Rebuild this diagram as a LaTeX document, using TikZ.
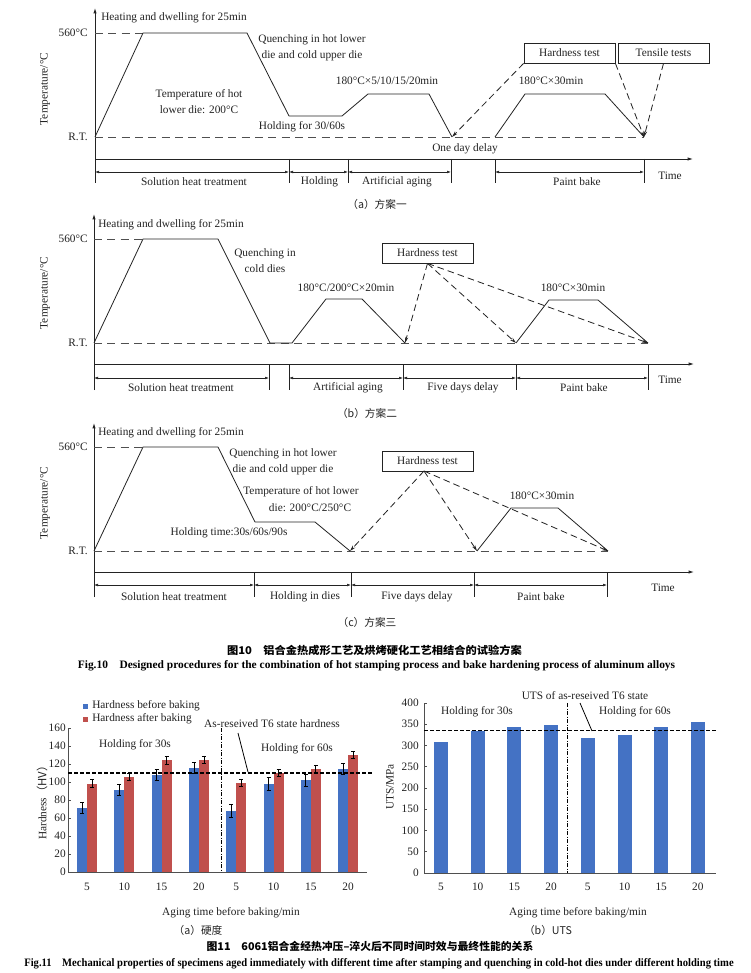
\documentclass[tikz,border=0pt]{standalone}
\usepackage{fontspec}
\usepackage{graphicx}
\setmainfont{Liberation Serif}
\newfontfamily\cjk{Noto Sans CJK SC}
\usetikzlibrary{arrows.meta,calc}
\definecolor{ink}{RGB}{35,35,35}
\definecolor{barblue}{RGB}{68,114,196}
\definecolor{barred}{RGB}{192,80,77}
\tikzset{
  lbl/.style={font=\fontsize{8.5}{12}\selectfont, inner sep=0pt, text=ink},
  mlbl/.style={lbl, align=center},
  curve/.style={draw=ink, line width=0.6pt, line join=round},
  rtdash/.style={draw=ink!80, line width=0.6pt, dash pattern=on 6pt off 4pt},
  axis/.style={draw=ink, line width=0.6pt},
  axarrow/.style={axis, -{Latex[length=4pt,width=2.5pt]}},
  dimline/.style={draw=ink, line width=0.45pt, {Latex[length=3pt,width=2pt]}-{Latex[length=3pt,width=2pt]}},
  tickline/.style={draw=ink, line width=0.6pt},
  testbox/.style={draw=ink, line width=0.6pt, minimum width=68.25pt, minimum height=15pt, inner sep=0pt, font=\fontsize{8.5}{10}\selectfont, text=ink},
  testarrow/.style={draw=ink, line width=0.6pt, dash pattern=on 5pt off 3pt, -{Stealth[length=4.5pt,width=2.5pt]}},
  capcn/.style={font=\cjk\fontsize{8}{10}\selectfont, inner sep=0pt, text=ink},
  capbold/.style={font=\bfseries\fontsize{8.5}{10}\selectfont, inner sep=0pt, text=black},
  capcnbold/.style={font=\cjk\bfseries\fontsize{8}{10}\selectfont, inner sep=0pt, text=black},
  chartaxis/.style={draw=ink!80, line width=0.6pt},
  refline/.style={draw=black, line width=0.9pt, dash pattern=on 3pt off 1.5pt},
  splitline/.style={draw=black, line width=0.6pt, dash pattern=on 3pt off 1.2pt on 0.6pt off 1.2pt},
  errbar/.style={draw=black, line width=0.6pt},
  leader/.style={draw=black, line width=0.6pt},
}
\begin{document}
\begin{tikzpicture}[x=0.75pt,y=-0.75pt]
\useasboundingbox (0,0) rectangle (750,973);
\fill[white] (0,0) rectangle (750,973);

%%%%%%%%%%%%%%%%%%%% Panel (a)
\coordinate (ayb) at (95,183); \coordinate (ayt) at (95,8);
\coordinate (atl) at (95,159); \coordinate (atr) at (693,159);
\draw[axarrow] (ayb) -- (ayt);
\draw[axarrow] (atl) -- (atr);
\node[lbl,anchor=east] (a560) at (88,33) {560°C};
\node[lbl,anchor=east] (aRT) at (88,137) {R.T.};
\node[lbl,rotate=90] (aylab) at (45,89) {Temperature/°C};
\foreach \x in {289,348,451,495,644} \draw[tickline] (\x,159) -- (\x,183);
\draw[dimline] (95,172) -- (289,172);
\draw[dimline] (289,172) -- (348,172);
\draw[dimline] (348,172) -- (451,172);
\draw[dimline] (495,172) -- (644,172);
\node[lbl] (aL1) at (194,182) {Solution heat treatment};
\node[lbl] (aL2) at (319.5,182) {Holding};
\node[lbl] (aL3) at (397,182) {Artificial aging};
\node[lbl] (aL4) at (577,182) {Paint bake};
\node[lbl] (aTime) at (670,176) {Time};
\coordinate (a0) at (95,137); \coordinate (a1) at (143,33); \coordinate (a2) at (247,33);
\coordinate (a3) at (289,116); \coordinate (a4) at (342,116); \coordinate (a5) at (368,94);
\coordinate (a6) at (429,94); \coordinate (a7) at (452,137); \coordinate (a8) at (495,137);
\coordinate (a9) at (525,94); \coordinate (a10) at (605,94); \coordinate (a11) at (644,137);
\coordinate (a560l) at (95,33);
\draw[rtdash] (a560l) -- (a1);
\draw[rtdash] (a0) -- (a11);
\draw[curve] (a0) -- (a1) -- (a2) -- (a3) -- (a4) -- (a5) -- (a6) -- (a7);
\draw[curve] (a8) -- (a9) -- (a10) -- (a11);
\node[testbox] (aht) at (569.5,53) {Hardness test};
\node[testbox] (att) at (663.5,53) {Tensile tests};
\draw[testarrow] (aht.south west) -- (a7);
\draw[testarrow] (aht.south east) -- (a11);
\draw[testarrow] (att.south) -- (a11);
\node[lbl,anchor=west] (aT1) at (101,18) {Heating and dwelling for 25min};
\node[mlbl] (aT2) at (312,48) {Quenching in hot lower\\die and cold upper die};
\node[mlbl] (aT3) at (199,101.5) {Temperature of hot\\lower die: 200°C};
\node[lbl] (aT4) at (302,127) {Holding for 30/60s};
\node[lbl] (aT5) at (387,81) {180°C×5/10/15/20min};
\node[lbl] (aT6) at (465,149) {One day delay};
\node[lbl] (aT7) at (551,81) {180°C×30min};
\node[capcn] (acap) at (377,204) {\cjk（a）方案一};

%%%%%%%%%%%%%%%%%%%% Panel (b)
\coordinate (byb) at (94,390); \coordinate (byt) at (94,214);
\coordinate (btl) at (94,364); \coordinate (btr) at (694,364);
\draw[axarrow] (byb) -- (byt);
\draw[axarrow] (btl) -- (btr);
\node[lbl,anchor=east] (b560) at (88,239) {560°C};
\node[lbl,anchor=east] (bRT) at (88,343) {R.T.};
\node[lbl,rotate=90] (bylab) at (45,293) {Temperature/°C};
\foreach \x in {269,289,403,516,648} \draw[tickline] (\x,364) -- (\x,390);
\draw[dimline] (94,378) -- (269,378);
\draw[dimline] (289,378) -- (403,378);
\draw[dimline] (403,378) -- (516,378);
\draw[dimline] (516,378) -- (648,378);
\node[lbl] (bL1) at (181,388) {Solution heat treatment};
\node[lbl] (bL2) at (348,388) {Artificial aging};
\node[lbl] (bL3) at (463,388) {Five days delay};
\node[lbl] (bL4) at (584,388) {Paint bake};
\node[lbl] (bTime) at (670,380) {Time};
\coordinate (b0) at (94,343); \coordinate (b1) at (143,239); \coordinate (b2) at (218,239);
\coordinate (b3) at (270,343); \coordinate (b4) at (292,343); \coordinate (b5) at (326,299);
\coordinate (b6) at (362,299); \coordinate (b7) at (405,343); \coordinate (b8) at (516,343);
\coordinate (b9) at (549,300); \coordinate (b10) at (598,300); \coordinate (b11) at (648,343);
\coordinate (b560l) at (94,239);
\draw[rtdash] (b560l) -- (b1);
\draw[rtdash] (b0) -- (b11);
\draw[curve] (b0) -- (b1) -- (b2) -- (b3) -- (b4) -- (b5) -- (b6) -- (b7);
\draw[curve] (b8) -- (b9) -- (b10) -- (b11);
\node[testbox] (bht) at (427.5,253) {Hardness test};
\draw[testarrow] (bht.south) -- (b7);
\draw[testarrow] (bht.south) -- (b8);
\draw[testarrow] (bht.south) -- (b11);
\node[lbl,anchor=west] (bT1) at (98,225) {Heating and dwelling for 25min};
\node[mlbl] (bT2) at (265,261) {Quenching in\\cold dies};
\node[lbl] (bT3) at (346,288) {180°C/200°C×20min};
\node[lbl] (bT4) at (573,288) {180°C×30min};
\node[capcn] (bcap) at (367,413) {\cjk（b）方案二};

%%%%%%%%%%%%%%%%%%%% Panel (c)
\coordinate (cyb) at (94,597); \coordinate (cyt) at (94,423);
\coordinate (ctl) at (94,572); \coordinate (ctr) at (694,572);
\draw[axarrow] (cyb) -- (cyt);
\draw[axarrow] (ctl) -- (ctr);
\node[lbl,anchor=east] (c560) at (88,447) {560°C};
\node[lbl,anchor=east] (cRT) at (88,551) {R.T.};
\node[lbl,rotate=90] (cylab) at (45,503) {Temperature/°C};
\foreach \x in {254,351,474,607} \draw[tickline] (\x,572) -- (\x,597);
\draw[dimline] (94,585) -- (254,585);
\draw[dimline] (254,585) -- (351,585);
\draw[dimline] (351,585) -- (474,585);
\draw[dimline] (474,585) -- (607,585);
\node[lbl] (cL1) at (174,597) {Solution heat treatment};
\node[lbl] (cL2) at (305,597) {Holding in dies};
\node[lbl] (cL3) at (417,597) {Five days delay};
\node[lbl] (cL4) at (541,597) {Paint bake};
\node[lbl] (cTime) at (663,588) {Time};
\coordinate (c0) at (94,551); \coordinate (c1) at (143,447); \coordinate (c2) at (218,447);
\coordinate (c3) at (255,522); \coordinate (c4) at (315,522); \coordinate (c5) at (350,551);
\coordinate (c6) at (477,551); \coordinate (c7) at (511,508); \coordinate (c8) at (558,508);
\coordinate (c9) at (608,551);
\coordinate (c560l) at (94,447);
\draw[rtdash] (c560l) -- (c1);
\draw[rtdash] (c0) -- (c9);
\draw[curve] (c0) -- (c1) -- (c2) -- (c3) -- (c4) -- (c5);
\draw[curve] (c6) -- (c7) -- (c8) -- (c9);
\node[testbox] (cht) at (427.5,461) {Hardness test};
\coordinate (chp) at (424,471);
\draw[testarrow] (chp) -- (c5);
\draw[testarrow] (chp) -- (c6);
\draw[testarrow] (chp) -- (c9);
\node[lbl,anchor=west] (cT1) at (98,433) {Heating and dwelling for 25min};
\node[mlbl] (cT2) at (283,461.5) {Quenching in hot lower\\die and cold upper die};
\node[lbl] (cT3) at (301,492) {Temperature of hot lower};
\node[lbl] (cT4) at (310,508) {die: 200°C/250°C};
\node[lbl] (cT5) at (229,533) {Holding time:30s/60s/90s};
\node[lbl] (cT6) at (542,496) {180°C×30min};
\node[capcn] (ccap) at (367,622) {\cjk（c）方案三};

%%%%%%%%%%%%%%%%%%%% Fig.10 captions
\node[capcnbold] (f10cn) at (374.5,650) {\resizebox{221pt}{\height}{图10\hspace{1em}铝合金热成形工艺及烘烤硬化工艺相结合的试验方案}};
\node[capbold] (f10en) at (376.5,666) {\resizebox{448pt}{\height}{Fig.10\hspace{1em}Designed procedures for the combination of hot stamping process and bake hardening process of aluminum alloys}};

%%%%%%%%%%%%%%%%%%%% Left chart (hardness)
\coordinate (lo) at (68,872); \coordinate (lt) at (68,728); \coordinate (lr) at (367,872);
\foreach \i/\b/\be/\r/\re in {1/71/6/98/4.5,2/91/6/106/4,3/108/6/124/4,4/116/6/125/4,5/68/7/99/4,6/98/7/110/4,7/102/7/115/4,8/115/6/130/4}{
  \pgfmathsetmacro\cx{87+37.3*(\i-1)}
  \pgfmathsetmacro\yb{872-0.9*\b}
  \pgfmathsetmacro\yr{872-0.9*\r}
  \pgfmathsetmacro\ebb{0.9*\be}
  \pgfmathsetmacro\ebr{0.9*\re}
  \fill[barblue] ({\cx-10},872) rectangle (\cx,\yb);
  \fill[barred] (\cx,872) rectangle ({\cx+10},\yr);
  \draw[errbar] ({\cx-5},{\yb-\ebb}) -- ({\cx-5},{\yb+\ebb});
  \draw[errbar] ({\cx-7},{\yb-\ebb}) -- ({\cx-3},{\yb-\ebb});
  \draw[errbar] ({\cx-7},{\yb+\ebb}) -- ({\cx-3},{\yb+\ebb});
  \draw[errbar] ({\cx+5},{\yr-\ebr}) -- ({\cx+5},{\yr+\ebr});
  \draw[errbar] ({\cx+3},{\yr-\ebr}) -- ({\cx+7},{\yr-\ebr});
  \draw[errbar] ({\cx+3},{\yr+\ebr}) -- ({\cx+7},{\yr+\ebr});
}
\draw[chartaxis] (lt) -- (lo) -- (lr);
\foreach \v in {0,20,...,160}{
  \pgfmathsetmacro\yy{872-0.9*\v}
  \draw[chartaxis] (68,\yy) -- (71,\yy);
  \node[lbl,anchor=east] (ly\v) at (66,\yy) {\v};
}
\foreach \i/\t in {1/5,2/10,3/15,4/20,5/5,6/10,7/15,8/20}{
  \node[lbl] (lx\i) at ({87+37.3*(\i-1)},887) {\t};
}
\coordinate (lrefa) at (68,773); \coordinate (lrefb) at (373,773);
\draw[refline] (lrefa) -- (lrefb);
\coordinate (lsa) at (221,728); \coordinate (lsb) at (221,872);
\draw[splitline] (lsa) -- (lsb);
\fill[barblue] (83,703.5) rectangle (88,708.5);
\fill[barred] (83,716.5) rectangle (88,721.5);
\node[lbl,anchor=west] (lleg1) at (92,706) {Hardness before baking};
\node[lbl,anchor=west] (lleg2) at (92,719) {Hardness after baking};
\node[lbl] (lref) at (272,724) {As-reseived T6 state hardness};
\coordinate (lla) at (238,733); \coordinate (llb) at (248,772);
\draw[leader] (lla) -- (llb);
\node[lbl] (lh30) at (135,745) {Holding for 30s};
\node[lbl] (lh60) at (297,749) {Holding for 60s};
\node[lbl,rotate=90] (lylab) at (42,800) {Hardness\cjk{（}HV\cjk{）}};
\node[lbl] (lxlab) at (231,913) {Aging time before baking/min};
\node[capcn] (lcap) at (198,930) {\cjk（a）硬度};

%%%%%%%%%%%%%%%%%%%% Right chart (UTS)
\coordinate (ro) at (424,873); \coordinate (rt) at (424,703); \coordinate (rr) at (716,873);
\foreach \i/\u/\t in {1/309/5,2/334/10,3/343/15,4/348/20,5/317/5,6/325/10,7/343/15,8/355/20}{
  \pgfmathsetmacro\cx{441+36.7*(\i-1)}
  \pgfmathsetmacro\yu{873-0.425*\u}
  \fill[barblue] ({\cx-7},873) rectangle ({\cx+7},\yu);
  \node[lbl] (rx\i) at (\cx,887) {\t};
}
\draw[chartaxis] (rt) -- (ro) -- (rr);
\foreach \v in {0,50,...,400}{
  \pgfmathsetmacro\yy{873-0.425*\v}
  \draw[chartaxis] (424,\yy) -- (427,\yy);
  \node[lbl,anchor=east] (ry\v) at (419,\yy) {\v};
}
\coordinate (rrefa) at (424,730.6); \coordinate (rrefb) at (718,730.6);
\draw[refline] (rrefa) -- (rrefb);
\coordinate (rsa) at (567,703); \coordinate (rsb) at (567,873);
\draw[splitline] (rsa) -- (rsb);
\node[lbl] (rref) at (585,696) {UTS of as-reseived T6 state};
\coordinate (rla) at (580,703); \coordinate (rlb) at (592,731);
\draw[leader] (rla) -- (rlb);
\node[lbl] (rh30) at (477,712) {Holding for 30s};
\node[lbl] (rh60) at (635,712) {Holding for 60s};
\node[lbl,rotate=90] (rylab) at (390,787) {UTS/MPa};
\node[lbl] (rxlab) at (578,913) {Aging time before baking/min};
\node[capcn] (rcap) at (548,930) {\cjk（b）UTS};

%%%%%%%%%%%%%%%%%%%% Fig.11 captions
\node[capcnbold] (f11cn) at (370,946) {\resizebox{245pt}{\height}{图11\hspace{1em}6061铝合金经热冲压–淬火后不同时间时效与最终性能的关系}};
\node[capbold] (f11en) at (379,964) {\resizebox{532pt}{\height}{Fig.11\hspace{1em}Mechanical properties of specimens aged immediately with different time after stamping and quenching in cold-hot dies under different holding time}};
\end{tikzpicture}
\end{document}
